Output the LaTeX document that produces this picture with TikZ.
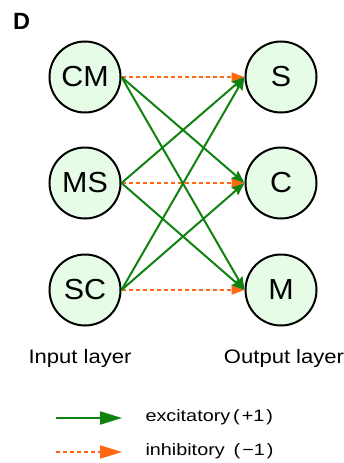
\documentclass[tikz,border=0pt]{standalone}
\usepackage{fontspec}
\setmainfont{Liberation Sans}
\newfontfamily\cellfont{Liberation Sans}[FakeStretch=1.05]
\newfontfamily\capfont{Liberation Sans}[FakeStretch=1.13]
\newfontfamily\legfont{Liberation Sans}[FakeStretch=1.2]
\usetikzlibrary{arrows.meta}
\definecolor{exc}{RGB}{16,130,16}
\definecolor{inh}{RGB}{255,104,16}
\definecolor{cellfill}{RGB}{230,252,230}
\begin{document}
\begin{tikzpicture}[x=1pt,y=-1pt,
  cell/.style={circle,draw=black,line width=2pt,fill=cellfill,minimum size=71pt,inner sep=0pt,font=\cellfont\fontsize{29}{29}\selectfont},
  excit/.style={draw=exc,line width=2pt,-{Stealth[length=13pt,width=10pt,inset=2pt]}},
  inhib/.style={draw=inh,line width=2pt,dash pattern=on 4pt off 3pt,-{Triangle[length=13pt,width=9pt]}},
  lbl/.style={font=\capfont\fontsize{19.5}{19.5}\selectfont},
  leg/.style={font=\legfont\fontsize{16.5}{16.5}\selectfont,anchor=west}]
\useasboundingbox (0,0) rectangle (344,463);
\node[font=\fontsize{23.5}{23.5}\selectfont\bfseries] (D) at (21.5,21) {D};
% input layer
\node[cell] (CM) at (85,77) {CM};
\node[cell] (MS) at (85,183) {MS};
\node[cell] (SC) at (85,290) {SC};
% output layer
\node[cell] (S) at (281,77) {S};
\node[cell] (C) at (281,183) {C};
\node[cell] (M) at (281,290) {M};
% inhibitory connections
\draw[inhib] (CM.east) -- (S.west);
\draw[inhib] (MS.east) -- (C.west);
\draw[inhib] (SC.east) -- (M.west);
% excitatory connections
\draw[excit] (CM.east) -- (C.west);
\draw[excit] (CM.east) -- (M.west);
\draw[excit] (MS.east) -- (S.west);
\draw[excit] (MS.east) -- (M.west);
\draw[excit] (SC.east) -- (S.west);
\draw[excit] (SC.east) -- (C.west);
% layer captions
\node[lbl] (inl) at (80,358) {Input layer};
\node[lbl] (outl) at (284,358) {Output layer};
% legend
\coordinate (e1) at (56,418);
\coordinate (e2) at (122,418);
\coordinate (i1) at (56,452);
\coordinate (i2) at (122,452);
\draw[draw=exc,line width=2pt,-{Triangle[length=22pt,width=13pt]}] (e1) -- (e2);
\draw[draw=inh,line width=2pt,dash pattern=on 4pt off 3pt,-{Triangle[length=22pt,width=13pt]}] (i1) -- (i2);
\node[leg] (le) at (142,417) {excitatory\hspace{3pt}(\hspace{2pt}+1\hspace{2pt})};
\node[leg] (li) at (142,451) {inhibitory\hspace{9pt}(\hspace{2pt}−1\hspace{2pt})};
\end{tikzpicture}
\end{document}
